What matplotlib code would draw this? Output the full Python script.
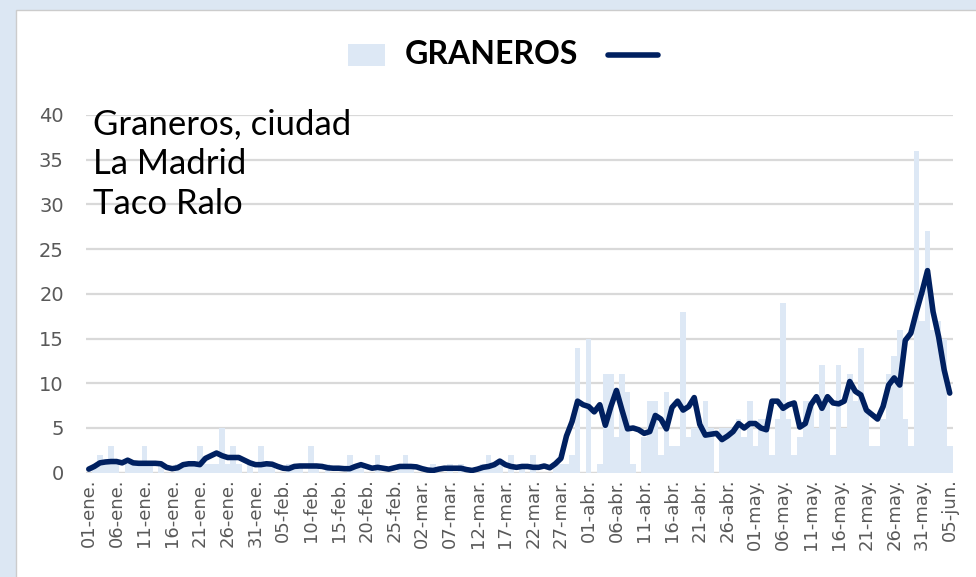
import matplotlib
matplotlib.use('Agg')
import matplotlib.pyplot as plt
from matplotlib.patches import Rectangle
from matplotlib.lines import Line2D
import numpy as np

# daily cases, 01-ene .. 05-jun
casos_ene = [0, 1, 2, 1, 3, 1, 0, 1, 1, 1, 3, 1, 0, 1, 0, 0, 1, 1, 1, 1,
             3, 1, 1, 1, 5, 1, 3, 1, 0, 1, 0]
casos_feb = [3, 1, 1, 0, 0, 1, 1, 1, 0, 3, 1, 0, 1, 0, 0, 0, 2, 1, 1, 0,
             0, 2, 0, 0, 0, 1, 2, 1]
casos_mar = [0, 0, 0, 1, 0, 0, 1, 0, 1, 0, 0, 0, 1, 2, 1, 1, 0, 2, 0, 1,
             0, 2, 0, 0, 0, 1, 1, 1, 2, 14, 0]
casos_abr = [15, 0, 1, 11, 11, 4, 11, 9, 1, 0, 4, 8, 8, 2, 9, 3, 3, 18, 4, 5,
             5, 8, 5, 0, 5, 5, 5, 6, 4, 8]
casos_may = [3, 6, 6, 2, 6, 19, 6, 2, 4, 8, 8, 5, 12, 8, 2, 12, 5, 11, 8, 14,
             7, 3, 3, 6, 11, 13, 16, 6, 3, 36, 17]
casos_jun = [27, 16, 17, 15, 3]

# moving average line
prom_ene = [0.4, 0.7, 1.1, 1.2, 1.25, 1.25, 1.1, 1.4, 1.1, 1.05, 1.05, 1.05, 1.05,
            1.0, 0.6, 0.45, 0.55, 0.9, 1.0, 1.0, 0.9, 1.6, 1.9, 2.2, 1.9, 1.7,
            1.7, 1.7, 1.4, 1.1, 0.9]
prom_feb = [0.9, 1.0, 0.95, 0.7, 0.5, 0.45, 0.7, 0.75, 0.75, 0.75, 0.75, 0.7,
            0.55, 0.5, 0.5, 0.45, 0.45, 0.7, 0.9, 0.7, 0.5, 0.6, 0.5, 0.4, 0.55,
            0.7, 0.7, 0.7]
prom_mar = [0.65, 0.45, 0.3, 0.25, 0.4, 0.5, 0.5, 0.5, 0.5, 0.35, 0.25, 0.4, 0.6,
            0.7, 0.9, 1.3, 0.9, 0.7, 0.6, 0.7, 0.7, 0.6, 0.6, 0.75, 0.55, 1.0,
            1.6, 4.1, 5.7, 8.0, 7.6]
prom_abr = [7.4, 6.8, 7.6, 5.3, 7.4, 9.2, 7.0, 4.9, 5.0, 4.8, 4.4, 4.6, 6.4, 6.0,
            4.9, 7.3, 8.0, 7.0, 7.4, 8.4, 5.4, 4.2, 4.3, 4.4, 3.7, 4.1, 4.6, 5.5,
            5.0, 5.5]
prom_may = [5.5, 5.0, 4.8, 8.0, 8.0, 7.2, 7.6, 7.8, 5.1, 5.5, 7.6, 8.5, 7.2, 8.5,
            7.8, 7.7, 8.0, 10.2, 9.1, 8.7, 7.0, 6.5, 6.0, 7.4, 9.8, 10.6, 9.8,
            14.8, 15.6, 18.0, 20.2]
prom_jun = [22.6, 18.0, 15.2, 11.5, 8.9]

etiquetas = ['01-ene.', '06-ene.', '11-ene.', '16-ene.', '21-ene.', '26-ene.',
             '31-ene.', '05-feb.', '10-feb.', '15-feb.', '20-feb.', '25-feb.',
             '02-mar.', '07-mar.', '12-mar.', '17-mar.', '22-mar.', '27-mar.',
             '01-abr.', '06-abr.', '11-abr.', '16-abr.', '21-abr.', '26-abr.',
             '01-may.', '06-may.', '11-may.', '16-may.', '21-may.', '26-may.',
             '31-may.', '05-jun.']

casos = casos_ene + casos_feb + casos_mar + casos_abr + casos_may + casos_jun
prom = prom_ene + prom_feb + prom_mar + prom_abr + prom_may + prom_jun
dias = np.arange(len(casos))

W, H = 976, 577
bar_col = '#dde8f5'
navy = '#002060'
grid_col = '#d9d9d9'

fig = plt.figure(figsize=(W / 100, H / 100), dpi=100)
fig.patch.set_facecolor('#dce7f3')
fig.patches.append(Rectangle((16 / W, -0.1), 1.1, 1.1 - 10 / H, transform=fig.transFigure,
                             facecolor='white', edgecolor='#cccccc', lw=1, zorder=-5))

ax = fig.add_axes([86 / W, 1 - 472.7 / H, (952.5 - 86) / W, (472.7 - 115) / H])
ax.set_facecolor('none')
ax.bar(dias, casos, width=1.0, color=bar_col, zorder=2)
ax.plot(dias, prom, color=navy, lw=4, solid_joinstyle='round',
        solid_capstyle='round', zorder=3)

ax.set_xlim(-0.5, len(casos) - 0.5)
ax.set_ylim(0, 40)
ax.set_yticks(range(0, 41, 5))
ax.set_xticks(dias[::5])
ax.set_xticklabels(etiquetas, rotation=90)
ax.tick_params(axis='y', length=0, pad=16, labelsize=14, labelcolor='#595959')
ax.tick_params(axis='x', length=0, pad=4, labelsize=13, labelcolor='#595959')
ax.yaxis.grid(True, color=grid_col, lw=1.6, zorder=0)
ax.set_axisbelow(True)
for s in ax.spines.values():
    s.set_visible(False)
ax.axhline(0, color=grid_col, lw=1.6, zorder=1)

fig.text(93 / W, 1 - 108 / H, 'Graneros, ciudad\nLa Madrid\nTaco Ralo',
         family='Lato', fontsize=25, va='top', ha='left', linespacing=1.3)

# legend
fig.patches.append(Rectangle((348 / W, 1 - 66 / H), 37 / W, 22 / H, transform=fig.transFigure,
                             facecolor=bar_col, edgecolor='none'))
fig.text(405 / W, 1 - 55 / H, 'GRANEROS', family='Lato', fontweight='bold',
         fontsize=23, va='center', ha='left')
fig.lines.append(Line2D([608 / W, 658 / W], [1 - 55 / H, 1 - 55 / H], transform=fig.transFigure,
                        color=navy, lw=4, solid_capstyle='round'))

fig.savefig('out.png', dpi=100)
